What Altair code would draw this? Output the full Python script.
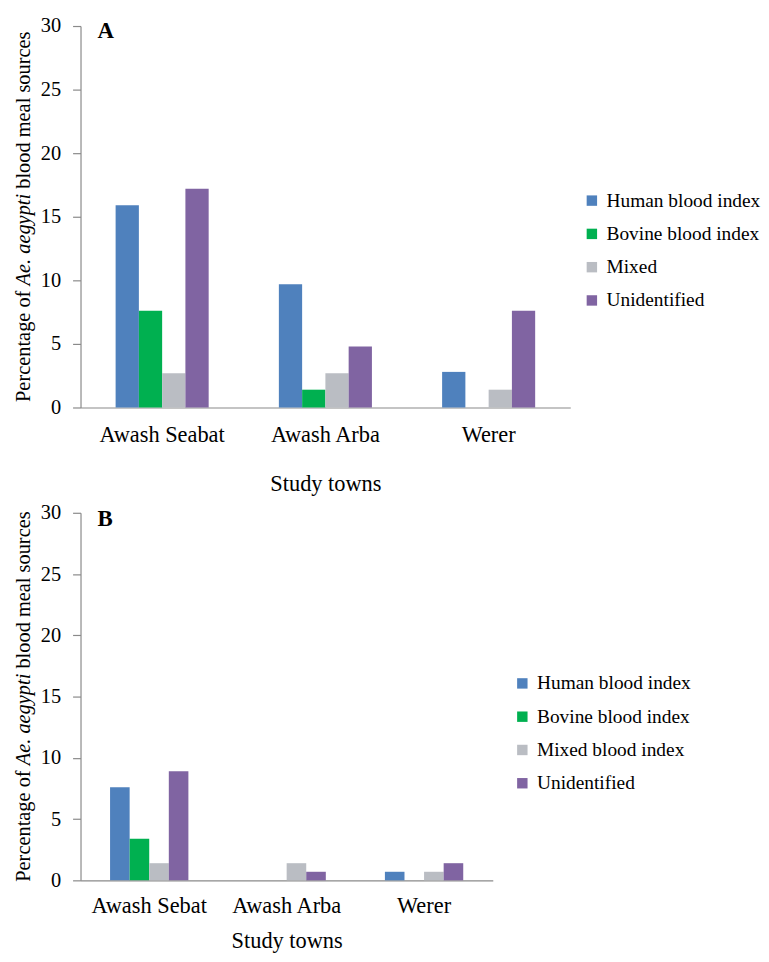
import altair as alt
import pandas as pd

towns_a = ["Awash Seabat", "Awash Arba", "Werer"]
towns_b = ["Awash Sebat", "Awash Arba", "Werer"]
series_a = ["Human blood index", "Bovine blood index", "Mixed", "Unidentified"]
series_b = ["Human blood index", "Bovine blood index", "Mixed blood index", "Unidentified"]

human_a = [15.9, 9.7, 2.8]
bovine_a = [7.6, 1.4, 0.0]
mixed_a = [2.7, 2.7, 1.4]
unident_a = [17.2, 4.8, 7.6]

human_b = [7.6, 0.0, 0.7]
bovine_b = [3.4, 0.0, 0.0]
mixed_b = [1.4, 1.4, 0.7]
unident_b = [8.9, 0.7, 1.4]

colors = ["#4f81bd", "#00b050", "#babdc3", "#8064a2"]
y_ticks = [0, 5, 10, 15, 20, 25, 30]

FONT = "Liberation Serif"
AXIS_GRAY = "#8a8a8a"

# y-title pieces (em widths in Times metrics)
title_parts = ["Percentage of", "Ae. aegypti", "blood meal sources"]
title_styles = ["normal", "italic", "normal"]
title_em = [5.47, 4.50, 7.72]
space_em = 0.25


def panel(towns, series, values, letter, width, height, x_label_pad, x_title_pad,
          legend_x, legend_y, letter_y):
    rows = []
    for s, vals in zip(series, values):
        for t, v in zip(towns, vals):
            rows.append({"town": t, "series": s, "value": v})
    df = pd.DataFrame(rows)

    bars = alt.Chart(df).mark_bar().encode(
        x=alt.X("town:N", sort=towns,
                scale=alt.Scale(paddingInner=0.43, paddingOuter=0.215),
                axis=alt.Axis(title="Study towns", labelAngle=0, ticks=False, tickSize=0,
                              labelPadding=x_label_pad, titlePadding=x_title_pad,
                              labelFont=FONT, labelFontSize=22.5, labelColor="#000",
                              titleFont=FONT, titleFontSize=22.5, titleFontWeight="normal",
                              titleColor="#000", domainColor=AXIS_GRAY, domainWidth=1.2)),
        xOffset=alt.XOffset("series:N", sort=series,
                            scale=alt.Scale(paddingInner=0, paddingOuter=0)),
        y=alt.Y("value:Q", scale=alt.Scale(domain=[0, 30], nice=False),
                axis=alt.Axis(title=None, values=y_ticks, grid=False, tickSize=8,
                              labelPadding=12, labelFont=FONT, labelFontSize=20.5,
                              labelColor="#000", tickColor=AXIS_GRAY, domainColor=AXIS_GRAY,
                              domainWidth=1.2, tickWidth=1.2)),
        color=alt.Color("series:N", scale=alt.Scale(domain=series, range=colors),
                        legend=alt.Legend(title=None, orient="none", legendX=legend_x,
                                          legendY=legend_y, symbolType="square",
                                          symbolSize=110, symbolStrokeWidth=0,
                                          labelFont=FONT, labelFontSize=19.5,
                                          labelColor="#000", rowPadding=12.5,
                                          labelOffset=5, padding=0)),
    )

    fs = 20.5
    total = (sum(title_em) + 2 * space_em) * fs
    start = height / 2 + total / 2  # bottom of text (reads upward)
    layers = [bars]
    pos = start
    for part, style, em in zip(title_parts, title_styles, title_em):
        w = em * fs
        center = pos - w / 2
        layers.append(
            alt.Chart(pd.DataFrame({"t": [part]})).mark_text(
                angle=270, font=FONT, fontSize=fs, fontStyle=style, color="#000",
                align="center", baseline="alphabetic"
            ).encode(text="t:N", x=alt.value(-51), y=alt.value(center))
        )
        pos = pos - w - space_em * fs

    layers.append(
        alt.Chart(pd.DataFrame({"t": [letter]})).mark_text(
            font=FONT, fontSize=23, fontWeight="bold", color="#000",
            align="left", baseline="alphabetic"
        ).encode(text="t:N", x=alt.value(17), y=alt.value(letter_y))
    )
    return alt.layer(*layers).properties(width=width, height=height)


chart_a = panel(towns_a, series_a, [human_a, bovine_a, mixed_a, unident_a], "A",
                493, 384, 16, 27, 505, 166, 12)
chart_b = panel(towns_b, series_b, [human_b, bovine_b, mixed_b, unident_b], "B",
                415, 370, 14, 13, 435, 162, 13)

chart = alt.vconcat(chart_a, chart_b, spacing=8).resolve_scale(
    color="independent", x="independent", xOffset="independent"
).resolve_legend(color="independent").properties(
    padding={"left": 6, "top": 5, "right": 0, "bottom": 0}
).configure_view(stroke=None)

chart.save("out.html", embed_options={"renderer": "svg", "actions": False})
